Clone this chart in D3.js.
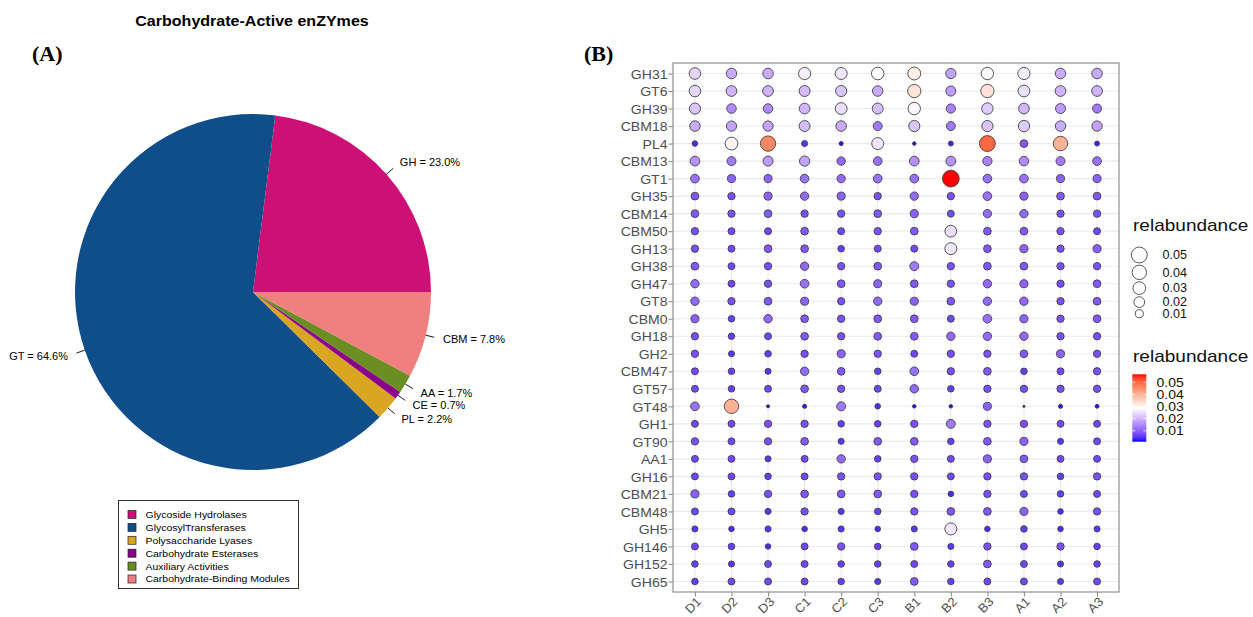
<!DOCTYPE html>
<html>
<head>
<meta charset="utf-8">
<script src="https://cdn.jsdelivr.net/npm/d3@7"></script>
<style>
  body { margin: 0; background: #fff; }
  text { font-family: "Liberation Sans", Arial, Helvetica, sans-serif; }
</style>
</head>
<body>
<svg id="chart" width="1253" height="617"></svg>
<script>
// ---------- Panel A: CAZy class composition ----------
const pieCodes   = ["GH", "GT", "PL", "CE", "AA", "CBM"];
const pieNames   = ["Glycoside Hydrolases", "GlycosylTransferases", "Polysaccharide Lyases",
                    "Carbohydrate Esterases", "Auxiliary Activities", "Carbohydrate-Binding Modules"];
const piePercent = [23.0, 64.6, 2.2, 0.7, 1.7, 7.8];
const pieColors  = ["#CD1076", "#104E8B", "#DAA520", "#8B008B", "#6B8E23", "#F08080"];

// ---------- Panel B: family relative abundance per sample ----------
const samples  = ["D1", "D2", "D3", "C1", "C2", "C3", "B1", "B2", "B3", "A1", "A2", "A3"];
const families = ["GH31", "GT6", "GH39", "CBM18", "PL4", "CBM13", "GT1", "GH35", "CBM14", "CBM50",
                  "GH13", "GH38", "GH47", "GT8", "CBM0", "GH18", "GH2", "CBM47", "GT57", "GT48",
                  "GH1", "GT90", "AA1", "GH16", "CBM21", "CBM48", "GH5", "GH146", "GH152", "GH65"];
// one row per family, columns follow `samples`
const relabundance = [
  [0.024, 0.019, 0.019, 0.027, 0.026, 0.029, 0.031, 0.018, 0.028, 0.027, 0.019, 0.019], // GH31
  [0.024, 0.020, 0.020, 0.021, 0.022, 0.019, 0.033, 0.017, 0.033, 0.025, 0.020, 0.020], // GT6
  [0.022, 0.015, 0.015, 0.020, 0.025, 0.021, 0.028, 0.014, 0.023, 0.020, 0.017, 0.013], // GH39
  [0.019, 0.018, 0.018, 0.021, 0.019, 0.013, 0.022, 0.013, 0.022, 0.023, 0.019, 0.018], // CBM18
  [0.004, 0.030, 0.046, 0.005, 0.002, 0.026, 0.0015, 0.003, 0.050, 0.009, 0.040, 0.003], // PL4
  [0.016, 0.013, 0.017, 0.018, 0.011, 0.012, 0.016, 0.016, 0.014, 0.015, 0.013, 0.012], // CBM13
  [0.012, 0.010, 0.010, 0.012, 0.011, 0.012, 0.012, 0.0566, 0.012, 0.012, 0.010, 0.010], // GT1
  [0.009, 0.008, 0.010, 0.011, 0.010, 0.008, 0.011, 0.008, 0.012, 0.010, 0.009, 0.009], // GH35
  [0.009, 0.008, 0.009, 0.008, 0.008, 0.009, 0.010, 0.007, 0.011, 0.011, 0.008, 0.008], // CBM14
  [0.008, 0.007, 0.007, 0.009, 0.007, 0.008, 0.009, 0.025, 0.009, 0.009, 0.008, 0.007], // CBM50
  [0.008, 0.007, 0.009, 0.009, 0.006, 0.007, 0.007, 0.026, 0.009, 0.010, 0.008, 0.010], // GH13
  [0.009, 0.007, 0.008, 0.011, 0.008, 0.009, 0.013, 0.008, 0.009, 0.009, 0.008, 0.008], // GH38
  [0.011, 0.007, 0.008, 0.012, 0.009, 0.010, 0.009, 0.008, 0.011, 0.010, 0.008, 0.009], // GH47
  [0.011, 0.008, 0.009, 0.010, 0.008, 0.011, 0.010, 0.009, 0.011, 0.011, 0.008, 0.009], // GT8
  [0.010, 0.006, 0.011, 0.009, 0.008, 0.009, 0.009, 0.007, 0.012, 0.010, 0.008, 0.009], // CBM0
  [0.008, 0.006, 0.007, 0.009, 0.008, 0.009, 0.009, 0.011, 0.011, 0.011, 0.008, 0.008], // GH18
  [0.008, 0.005, 0.006, 0.008, 0.010, 0.008, 0.007, 0.008, 0.008, 0.009, 0.010, 0.008], // GH2
  [0.007, 0.006, 0.005, 0.011, 0.009, 0.006, 0.012, 0.008, 0.009, 0.006, 0.007, 0.008], // CBM47
  [0.007, 0.006, 0.007, 0.009, 0.008, 0.007, 0.011, 0.006, 0.008, 0.008, 0.008, 0.008], // GT57
  [0.012, 0.040, 0.0012, 0.002, 0.013, 0.004, 0.0015, 0.0015, 0.010, 0.001, 0.002, 0.0018], // GT48
  [0.007, 0.007, 0.008, 0.008, 0.006, 0.006, 0.008, 0.013, 0.008, 0.008, 0.007, 0.007], // GH1
  [0.008, 0.007, 0.008, 0.009, 0.005, 0.009, 0.009, 0.006, 0.009, 0.010, 0.005, 0.007], // GT90
  [0.007, 0.007, 0.005, 0.007, 0.011, 0.006, 0.008, 0.007, 0.010, 0.009, 0.007, 0.007], // AA1
  [0.007, 0.007, 0.006, 0.007, 0.008, 0.008, 0.008, 0.007, 0.008, 0.008, 0.006, 0.008], // GH16
  [0.010, 0.006, 0.008, 0.009, 0.009, 0.009, 0.008, 0.004, 0.008, 0.007, 0.006, 0.007], // CBM21
  [0.007, 0.007, 0.005, 0.008, 0.005, 0.006, 0.008, 0.009, 0.009, 0.010, 0.004, 0.008], // CBM48
  [0.005, 0.004, 0.005, 0.004, 0.005, 0.004, 0.005, 0.026, 0.004, 0.006, 0.004, 0.005], // GH5
  [0.007, 0.006, 0.004, 0.007, 0.008, 0.006, 0.009, 0.005, 0.008, 0.007, 0.008, 0.006], // GH146
  [0.006, 0.005, 0.007, 0.007, 0.006, 0.006, 0.007, 0.006, 0.009, 0.007, 0.005, 0.006], // GH152
  [0.006, 0.007, 0.007, 0.007, 0.006, 0.005, 0.009, 0.006, 0.007, 0.007, 0.005, 0.007]  // GH65
];
const sizeBreaks  = [0.05, 0.04, 0.03, 0.02, 0.01];
const colorBreaks = [0.05, 0.04, 0.03, 0.02, 0.01];

const svg = d3.select("#chart");

// text helper with a slight horizontal stretch
function label(parent, x, y, str, opts = {}) {
  const sx = opts.sx ?? 1.08;
  const t = parent.append("text")
    .attr("transform", `translate(${x},${y}) scale(${sx},1)`)
    .attr("font-size", opts.size ?? 12)
    .attr("fill", opts.fill ?? "#000")
    .attr("text-anchor", opts.anchor ?? "start")
    .attr("font-weight", opts.weight ?? "normal")
    .text(str);
  if (opts.dy) t.attr("dy", opts.dy);
  if (opts.family) t.style("font-family", opts.family);
  return t;
}

// ===== Panel A =====
const pieG = svg.append("g");
const cx = 253, cy = 292, R = 178;

label(pieG, 252, 26, "Carbohydrate-Active enZYmes", { size: 15, weight: "bold", anchor: "middle", sx: 1.07 });
label(pieG, 32, 61, "(A)", { size: 22, weight: "bold", sx: 1.0, family: "'Liberation Serif', 'Times New Roman', serif" });

const pieData = pieCodes.map((c, i) => ({ code: c, value: piePercent[i], color: pieColors[i] }));
// counter-clockwise from 3 o'clock
const pie = d3.pie().sort(null).value(d => d.value)
  .startAngle(Math.PI / 2).endAngle(Math.PI / 2 - 2 * Math.PI);
const arc = d3.arc().innerRadius(0).outerRadius(R);
const arcs = pie(pieData);

const pg = pieG.append("g").attr("transform", `translate(${cx},${cy})`);
pg.selectAll("path.slice").data(arcs).join("path")
  .attr("class", "slice")
  .attr("d", arc)
  .attr("fill", d => d.data.color);

arcs.forEach(d => {
  const a = (d.startAngle + d.endAngle) / 2;
  const ux = Math.sin(a), uy = -Math.cos(a);
  pg.append("line")
    .attr("x1", ux * R).attr("y1", uy * R)
    .attr("x2", ux * R * 1.05).attr("y2", uy * R * 1.05)
    .attr("stroke", "#000").attr("stroke-width", 0.9);
  label(pg, ux * R * 1.1, uy * R * 1.1, `${d.data.code} = ${d.data.value.toFixed(1)}%`,
    { size: 10, anchor: ux < 0 ? "end" : "start", dy: "0.35em", sx: 1.1 });
});

// class legend
const lg = pieG.append("g");
const lgX = 118.5, lgY = 500.5, lgW = 180, lgH = 88;
lg.append("rect").attr("x", lgX).attr("y", lgY).attr("width", lgW).attr("height", lgH)
  .attr("fill", "#fff").attr("stroke", "#333").attr("stroke-width", 1);
const legY = d3.scalePoint().domain(pieNames).range([514.5, 579]);
pieNames.forEach((n, i) => {
  lg.append("rect").attr("x", 128).attr("y", legY(n) - 4).attr("width", 8).attr("height", 8)
    .attr("fill", pieColors[i]).attr("stroke", "#222").attr("stroke-width", 0.7);
  label(lg, 145.5, legY(n), n, { size: 9.8, dy: "0.35em", sx: 1.07 });
});

// ===== Panel B =====
const bG = svg.append("g");
label(bG, 584, 61, "(B)", { size: 22, weight: "bold", sx: 1.0, family: "'Liberation Serif', 'Times New Roman', serif" });

const px0 = 673, px1 = 1119, py0 = 63, py1 = 592;
const x = d3.scalePoint().domain(samples).range([px0, px1]).padding(0.6);
const y = d3.scalePoint().domain(families).range([py0, py1]).padding(0.6);

const cells = [];
families.forEach((f, i) => samples.forEach((s, j) => cells.push({ family: f, sample: s, v: relabundance[i][j] })));
const [vmin, vmax] = d3.extent(cells, d => d.v);

const color = d3.scaleLinear()
  .domain([vmin, (vmin + vmax) / 2, vmax])
  .range(["#0000ff", "#ffffff", "#ff0000"])
  .interpolate(d3.interpolateLab);
const rMin = 1.1, rMax = 8.4;
const sizeT = d3.scaleSqrt().domain([0, vmax - vmin]).range([0, 1]).clamp(true);
const radius = v => rMin + (rMax - rMin) * sizeT(Math.max(0, v - vmin));

// grid
const grid = bG.append("g");
grid.selectAll("line.h").data(families).join("line")
  .attr("x1", px0).attr("x2", px1).attr("y1", d => y(d)).attr("y2", d => y(d))
  .attr("stroke", "#ebebeb").attr("stroke-width", 1.1);
grid.selectAll("line.v").data(samples).join("line")
  .attr("y1", py0).attr("y2", py1).attr("x1", d => x(d)).attr("x2", d => x(d))
  .attr("stroke", "#ebebeb").attr("stroke-width", 1.1);

// points
bG.append("g").selectAll("circle").data(cells).join("circle")
  .attr("cx", d => x(d.sample))
  .attr("cy", d => y(d.family))
  .attr("r", d => radius(d.v))
  .attr("fill", d => color(d.v))
  .attr("stroke", "#3a3a3a")
  .attr("stroke-width", 0.85);

// panel border
bG.append("rect").attr("x", px0).attr("y", py0).attr("width", px1 - px0).attr("height", py1 - py0)
  .attr("fill", "none").attr("stroke", "#8f8f8f").attr("stroke-width", 1.2);

// axes
const yAxis = bG.append("g").attr("transform", `translate(${px0},0)`)
  .call(d3.axisLeft(y).tickSize(4.5).tickPadding(0));
yAxis.select(".domain").remove();
yAxis.selectAll(".tick line").attr("stroke", "#8f8f8f").attr("stroke-width", 1.1);
yAxis.selectAll(".tick text").each(function () {
  d3.select(this).attr("x", null).attr("dy", "0.36em")
    .attr("transform", "translate(-5.5,0) scale(1.08,1)")
    .attr("font-size", 13).attr("fill", "#4d4d4d")
    .style("font-family", "'Liberation Sans', Arial, sans-serif");
});

const xAxis = bG.append("g").attr("transform", `translate(0,${py1})`)
  .call(d3.axisBottom(x).tickSize(4.5).tickPadding(0));
xAxis.select(".domain").remove();
xAxis.selectAll(".tick line").attr("stroke", "#8f8f8f").attr("stroke-width", 1.1);
xAxis.selectAll(".tick text").each(function () {
  d3.select(this).attr("y", null).attr("dy", null)
    .attr("transform", "translate(6.5,10.5) rotate(-45) scale(1.04,1)")
    .attr("text-anchor", "end")
    .attr("font-size", 12.5).attr("fill", "#4d4d4d")
    .style("font-family", "'Liberation Sans', Arial, sans-serif");
});

// size legend
const sl = bG.append("g");
label(sl, 1133, 231, "relabundance", { size: 17, sx: 1.12, fill: "#111" });
let ky = 255;
sizeBreaks.forEach((b, i) => {
  if (i > 0) ky += (radius(sizeBreaks[i - 1]) + radius(b)) + 2.2;
  sl.append("circle").attr("cx", 1139.3).attr("cy", ky).attr("r", radius(b))
    .attr("fill", "none").attr("stroke", "#3a3a3a").attr("stroke-width", 0.85);
  label(sl, 1162.5, ky, b.toFixed(2), { size: 12, dy: "0.36em", sx: 1.05, fill: "#111" });
});

// colour bar legend
const cl = bG.append("g");
label(cl, 1133, 362, "relabundance", { size: 17, sx: 1.12, fill: "#111" });
const barTop = 374.3, barBot = 441.7, barX = 1132.3, barW = 14;
const cbY = d3.scaleLinear().domain([vmin, vmax]).range([barBot, barTop]);
const grad = svg.append("defs").append("linearGradient").attr("id", "cbar")
  .attr("x1", 0).attr("y1", 1).attr("x2", 0).attr("y2", 0);
d3.range(0, 1.0001, 0.05).forEach(t => {
  grad.append("stop").attr("offset", t).attr("stop-color", color(vmin + t * (vmax - vmin)));
});
cl.append("rect").attr("x", barX).attr("y", barTop).attr("width", barW).attr("height", barBot - barTop)
  .attr("fill", "url(#cbar)");
colorBreaks.forEach(b => {
  const yy = cbY(b);
  cl.append("line").attr("x1", barX).attr("x2", barX + 3).attr("y1", yy).attr("y2", yy)
    .attr("stroke", "#fff").attr("stroke-width", 0.8);
  cl.append("line").attr("x1", barX + barW - 3).attr("x2", barX + barW).attr("y1", yy).attr("y2", yy)
    .attr("stroke", "#fff").attr("stroke-width", 0.8);
  label(cl, 1156.5, yy, b.toFixed(2), { size: 12.5, dy: "0.36em", sx: 1.12, fill: "#111" });
});
</script>
</body>
</html>
